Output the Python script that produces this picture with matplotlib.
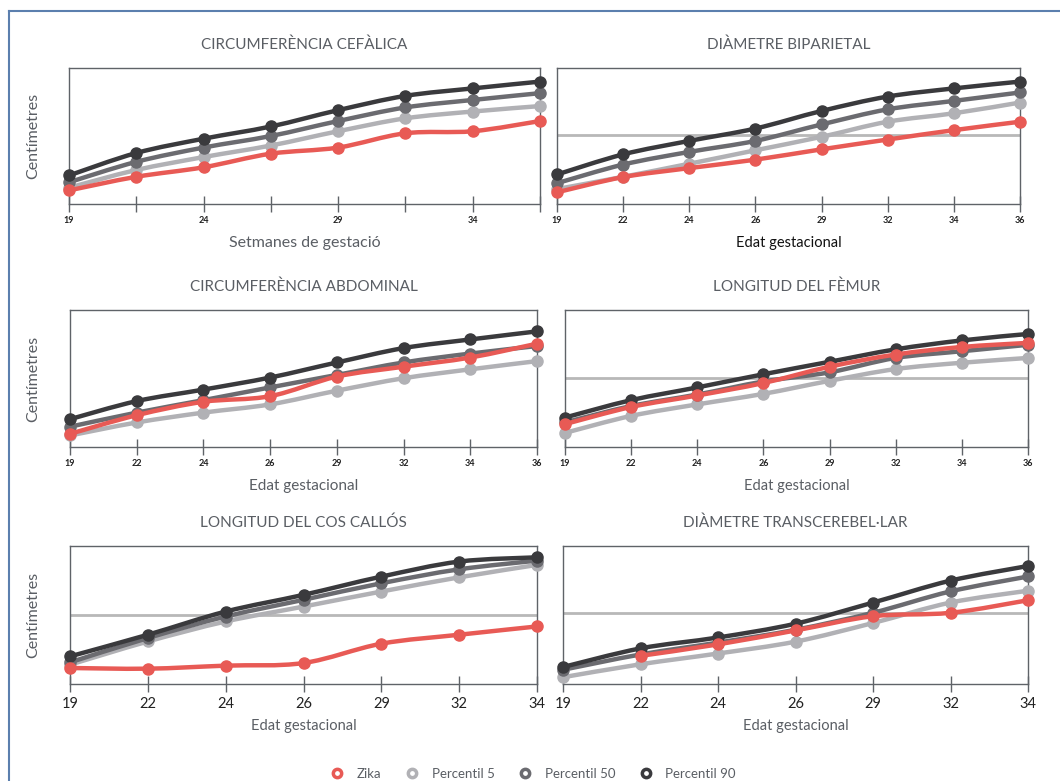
import matplotlib
matplotlib.use("Agg")
import matplotlib.pyplot as plt
from matplotlib.path import Path
from matplotlib.patches import PathPatch
from matplotlib.lines import Line2D

plt.rcParams["font.family"] = ["Lato", "DejaVu Sans"]

# values, 0 = x axis, 100 = top of frame (no y scale shown)
weeks_cc = ["19", "", "24", "", "29", "", "34", ""]
weeks_8 = ["19", "22", "24", "26", "29", "32", "34", "36"]
weeks_7 = ["19", "22", "24", "26", "29", "32", "34"]

cc_zika = [10, 20, 27, 37, 41.5, 52, 53.5, 61]
cc_p5 = [12, 25, 34.5, 43, 53.5, 63, 68, 72]
cc_p50 = [16, 31, 41.5, 50, 61, 71, 76.5, 81.5]
cc_p90 = [21, 37.5, 48, 57, 69, 79.5, 85, 90]

dbp_zika = [8.6, 19.8, 26.4, 32.6, 40.2, 47.4, 54.3, 60.5]
dbp_p5 = [11, 20, 29.6, 39.5, 49.4, 60.5, 66.7, 74.6]
dbp_p50 = [15.3, 29, 38.3, 46.4, 58.5, 69.6, 75.8, 82]
dbp_p90 = [21.7, 36.5, 46.4, 55.5, 68.4, 79, 85, 90]
dbp_ref = 50.6

ca_zika = [9.6, 23.2, 33, 37.1, 51.4, 58.6, 65.3, 75.4]
ca_p5 = [8.4, 17.9, 25.1, 31.1, 41.1, 50.2, 56.7, 62.7]
ca_p50 = [14.8, 25.1, 34.2, 43.5, 52.6, 61.7, 68.2, 73.7]
ca_p90 = [20.3, 33.5, 41.9, 50.7, 61.7, 72.2, 78.5, 84.4]

lf_zika = [16.7, 29.2, 37.6, 46.7, 58.6, 67.5, 73, 76]
lf_p5 = [10.3, 22.7, 31.1, 38.8, 48.3, 56.9, 61.5, 65]
lf_p50 = [18, 29.9, 38.3, 47.8, 54.5, 65, 69.9, 74.6]
lf_p90 = [21.5, 34.2, 43.5, 53.1, 62.2, 71.3, 77.8, 82.5]
lf_ref = 50.2

lcc_zika = [11.6, 11.1, 13.3, 15.2, 29.2, 35.7, 41.7]
lcc_p5 = [14, 30.8, 45.3, 56.1, 67, 77.3, 86.3]
lcc_p50 = [15.7, 33.3, 48.9, 61, 73, 83.1, 89.4]
lcc_p90 = [20, 35.7, 52.5, 64.6, 77.8, 88.7, 91.8]
lcc_ref = 50.1

dtc_zika = [None, 20.4, 28.7, 38.8, 49.1, 51.6, 60.7]
dtc_p5 = [4.9, 14.3, 22.1, 30.7, 44.2, 59, 67.6]
dtc_p50 = [10.3, 21.4, 30, 39.3, 51.6, 67.1, 77.9]
dtc_p90 = [12.3, 25.8, 33.7, 43.7, 59, 74.9, 85.5]
dtc_ref = 51.1

series_names = ["Zika", "Percentil 5", "Percentil 50", "Percentil 90"]
colors = ["#e85a55", "#b1b1b5", "#6b6b70", "#3a3a3d"]
text_c = "#5a5e64"
frame_c = "#5f6368"


def smooth_line(ax, xs, ys, color, z):
    # catmull-rom through the points, drawn as bezier path in data coords
    pts = [(x, y) for x, y in zip(xs, ys) if y is not None]
    n = len(pts)
    verts = [pts[0]]
    codes = [Path.MOVETO]
    for i in range(n - 1):
        p0 = pts[i - 1] if i > 0 else pts[i]
        p1, p2 = pts[i], pts[i + 1]
        p3 = pts[i + 2] if i + 2 < n else pts[i + 1]
        c1 = (p1[0] + (p2[0] - p0[0]) / 6, p1[1] + (p2[1] - p0[1]) / 6)
        c2 = (p2[0] - (p3[0] - p1[0]) / 6, p2[1] - (p3[1] - p1[1]) / 6)
        verts += [c1, c2, p2]
        codes += [Path.CURVE4] * 3
    ax.add_patch(PathPatch(Path(verts, codes), fill=False, edgecolor=color,
                           lw=3.2, capstyle="round", joinstyle="round",
                           zorder=z, clip_on=False))
    ax.plot([p[0] for p in pts], [p[1] for p in pts], ls="none", marker="o",
            ms=8, color=color, zorder=z + 0.5, clip_on=False)


fig = plt.figure(figsize=(10.6, 7.81), dpi=100)
W, H = 1060, 781


def add_panel(box, title, labels, data, ref=None, xlabel="Edat gestacional",
              xlabel_c=text_c, xlabel_size=10.5, ylabel=False, tick_size=6.5,
              tick_bold=True, big=False):
    l, r, t, b = box
    ax = fig.add_axes([l / W, 1 - b / H, (r - l) / W, (b - t) / H])
    xs = list(range(len(labels)))
    ax.set_xlim(0, len(labels) - 1)
    ax.set_ylim(0, 100)
    if ref is not None:
        ax.axhline(ref, color="#b8b8b8", lw=2, zorder=1)
    for k in [1, 2, 3, 0]:
        smooth_line(ax, xs, data[k], colors[k], 2 + k if k else 6)
    ax.set_xticks(xs)
    ax.set_xticklabels(labels)
    ax.set_yticks([])
    ax.tick_params(axis="x", direction="inout", length=11, width=1,
                   color=frame_c, labelcolor="#222222", labelsize=tick_size,
                   pad=3 if not big else 4)
    for lab in ax.get_xticklabels():
        lab.set_fontweight("bold" if tick_bold else "normal")
    for sp in ax.spines.values():
        sp.set_color(frame_c)
        sp.set_linewidth(1)
    cx = (l + r) / 2 / W
    fig.text(cx, 1 - (t - 23) / H, title, ha="center", va="center",
             fontsize=11, color=text_c)
    xl_off = 39 if not big else 42
    fig.text(cx, 1 - (b + xl_off) / H, xlabel, ha="center", va="center",
             fontsize=xlabel_size, color=xlabel_c)
    if ylabel:
        fig.text(33 / W, 1 - (t + b) / 2 / H, "Centímetres", rotation=90,
                 ha="center", va="center", fontsize=11.5, color=text_c)
    return ax


add_panel((69, 540, 68, 204), "CIRCUMFERÈNCIA CEFÀLICA", weeks_cc,
          [cc_zika, cc_p5, cc_p50, cc_p90], xlabel="Setmanes de gestació",
          xlabel_size=11.5, ylabel=True)
add_panel((557, 1020, 68, 204), "DIÀMETRE BIPARIETAL", weeks_8,
          [dbp_zika, dbp_p5, dbp_p50, dbp_p90], ref=dbp_ref,
          xlabel_c="#111111", xlabel_size=10.5)
add_panel((70, 537, 310, 447), "CIRCUMFERÈNCIA ABDOMINAL", weeks_8,
          [ca_zika, ca_p5, ca_p50, ca_p90], ylabel=True, xlabel_size=11)
add_panel((565, 1028, 310, 447), "LONGITUD DEL FÈMUR", weeks_8,
          [lf_zika, lf_p5, lf_p50, lf_p90], ref=lf_ref)
add_panel((70, 537, 546, 684), "LONGITUD DEL COS CALLÓS", weeks_7,
          [lcc_zika, lcc_p5, lcc_p50, lcc_p90], ref=lcc_ref, ylabel=True,
          tick_size=10.5, tick_bold=False, big=True)
add_panel((563, 1028, 546, 684), "DIÀMETRE TRANSCEREBEL·LAR", weeks_7,
          [dtc_zika, dtc_p5, dtc_p50, dtc_p90], ref=dtc_ref,
          tick_size=10.5, tick_bold=False, big=True)

# outer frame, only top and left edges visible
fig.add_artist(Line2D([9 / W, 9 / W], [0, 1 - 11 / H], color="#5b7fae", lw=1.5))
fig.add_artist(Line2D([9 / W, 1], [1 - 11 / H, 1 - 11 / H], color="#5b7fae", lw=1.5))

handles = [Line2D([], [], ls="none", marker="o", ms=6, mfc="white", mec=c,
                  mew=2.5) for c in colors]
fig.legend(handles, series_names, loc="center", bbox_to_anchor=(0.5, 1 - 774 / H),
           ncol=4, frameon=False, fontsize=9.5, labelcolor=text_c,
           handletextpad=0.5, columnspacing=1.3)

fig.savefig("out.png", dpi=100)
